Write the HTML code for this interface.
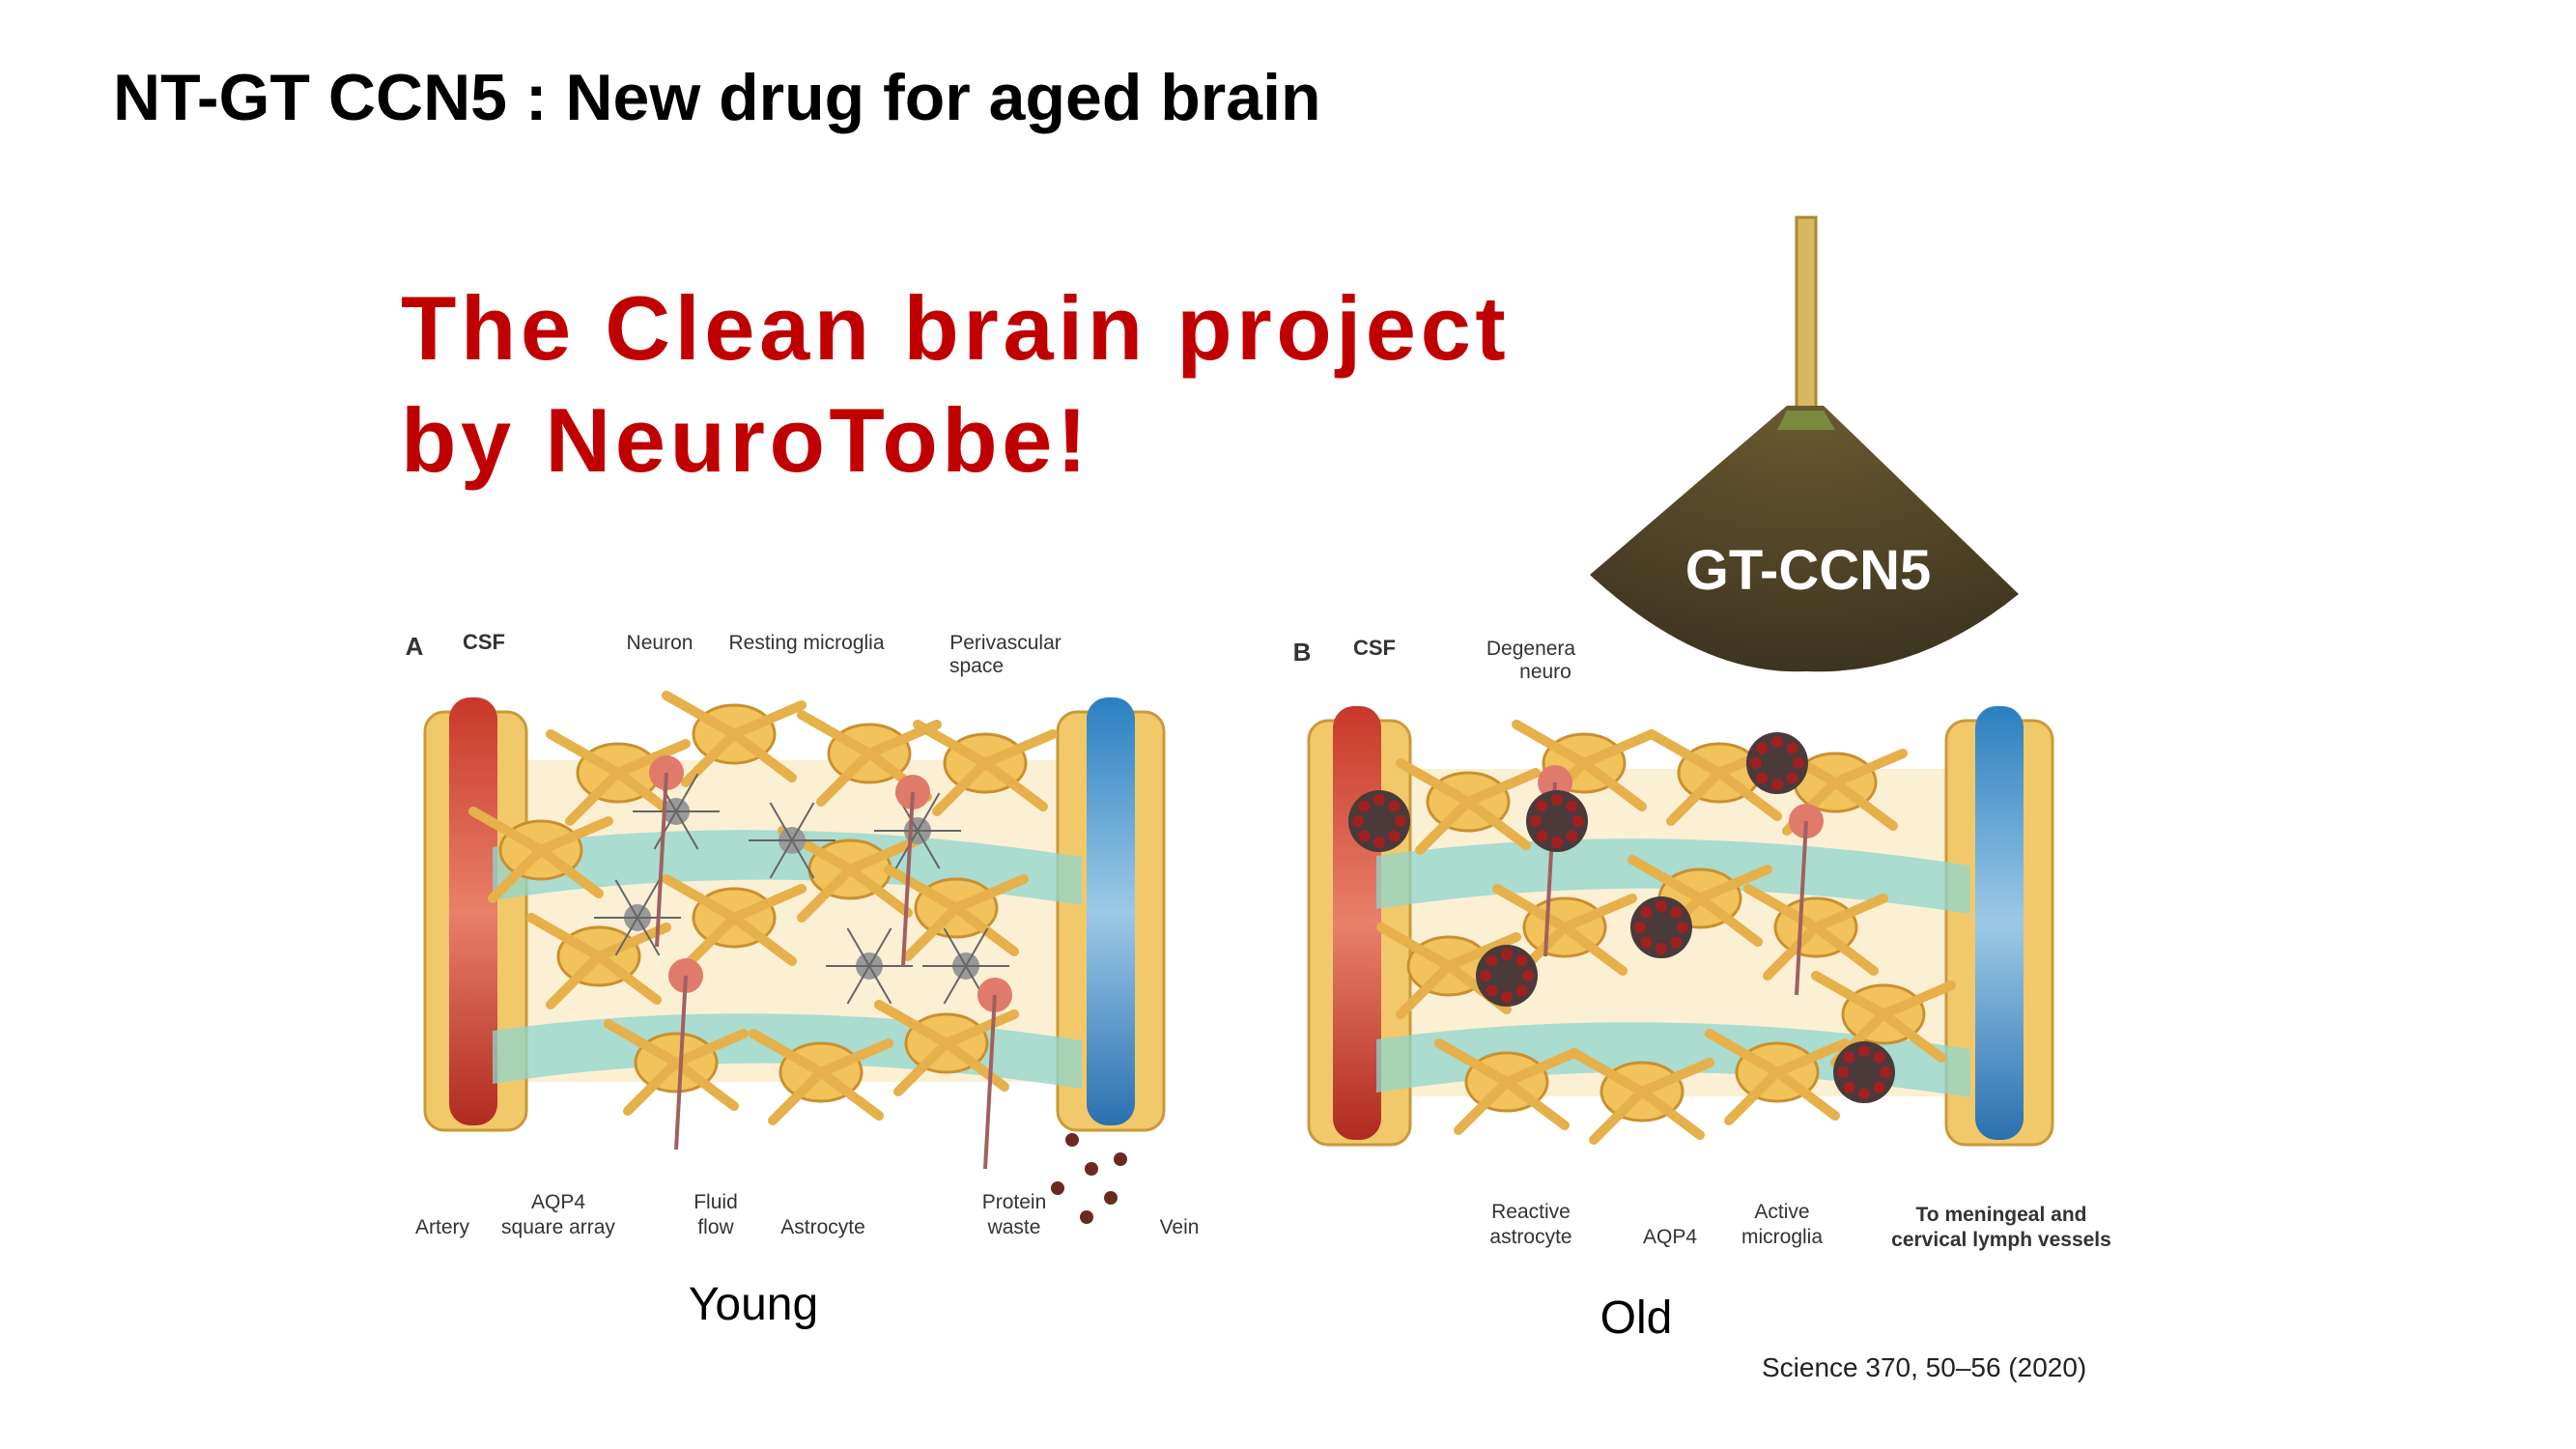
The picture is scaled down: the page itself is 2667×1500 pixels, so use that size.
<!DOCTYPE html>
<html><head><meta charset="utf-8">
<style>
html,body{margin:0;padding:0;background:#fff;width:2667px;height:1500px;overflow:hidden}
svg{display:block}
text{font-family:"Liberation Sans",sans-serif}
</style></head>
<body>
<svg id="s" width="2667" height="1500" viewBox="0 0 2667 1500">
<defs>
<linearGradient id="art" x1="0" y1="0" x2="0" y2="1"><stop offset="0" stop-color="#c8382a"/><stop offset="0.5" stop-color="#e8806a"/><stop offset="1" stop-color="#b02a20"/></linearGradient>
<linearGradient id="vein" x1="0" y1="0" x2="0" y2="1"><stop offset="0" stop-color="#2a7fc0"/><stop offset="0.5" stop-color="#9cc9e6"/><stop offset="1" stop-color="#2a70b0"/></linearGradient>
<radialGradient id="broom" cx="0.5" cy="0" r="1"><stop offset="0" stop-color="#6a5a30"/><stop offset="1" stop-color="#3d3420"/></radialGradient>
</defs>
<text x="117" y="124" font-size="68" font-weight="bold" fill="#000" style='font-family:"Liberation Sans","Noto Sans CJK KR",sans-serif'>NT-GT CCN5 : New drug for aged brain</text>
<text x="415" y="372" font-size="94" font-weight="bold" fill="#c00000" letter-spacing="4.5">The Clean brain project</text>
<text x="415" y="488" font-size="94" font-weight="bold" fill="#c00000" letter-spacing="4.5">by NeuroTobe!</text>

<g>
<rect x="1860" y="225" width="20" height="215" fill="#d8b860" stroke="#a88a30" stroke-width="3"/>
<path d="M1850 420 L1888 420 L2090 615 Q1985 700 1870 695 Q1760 700 1646 595 Z" fill="url(#broom)"/>
<path d="M1850 425 L1888 425 L1900 445 L1840 445 Z" fill="#7a8a40"/>
<text x="1872" y="610" font-size="58" font-weight="bold" fill="#fff" text-anchor="middle">GT-CCN5</text>
</g>

<g id="panelA"></g>
<g id="panelB"></g>

<text x="780" y="1366" font-size="48" fill="#000" text-anchor="middle">Young</text>
<text x="1694" y="1380" font-size="48" fill="#000" text-anchor="middle">Old</text>
<text x="1840" y="1435" font-size="28" fill="#222" transform="translate(-16,-10)">Science 370, 50–56 (2020)</text>
</svg>
<script>
const NS="http://www.w3.org/2000/svg";
function mk(p,tag,attrs,txt){const e=document.createElementNS(NS,tag);for(const k in attrs)e.setAttribute(k,attrs[k]);if(txt!==undefined)e.textContent=txt;p.appendChild(e);return e;}
const astroA=[[640,800],[760,760],[900,780],[1020,790],[620,990],[760,950],[880,900],[990,940],[700,1100],[850,1110],[980,1080],[560,880]];
const microA=[[700,840],[820,870],[950,860],[900,1000],[1000,1000],[660,950]];
const neuronA=[[690,800],[945,820],[710,1010],[1030,1030]];
const astroB=[[1520,830],[1640,790],[1780,800],[1900,810],[1500,1000],[1620,960],[1760,930],[1880,960],[1560,1120],[1700,1130],[1840,1110],[1950,1050]];
const clumpB=[[1428,850],[1612,850],[1720,960],[1840,790],[1930,1110],[1560,1010]];
const wasteA=[[1110,1180],[1130,1210],[1150,1240],[1125,1260],[1160,1200],[1095,1230]];

function panel(g,x0,ax,vx,top,bot,astro,micro,neuron,waste,clumps){
  mk(g,'rect',{x:ax+20,y:top+50,width:vx-ax-20,height:bot-top-100,fill:'#f7e2b0',opacity:0.55});
  mk(g,'rect',{x:ax-30,y:top,width:105,height:bot-top,rx:20,fill:'#f2c96a',stroke:'#c99a3a','stroke-width':3});
  mk(g,'rect',{x:ax-5,y:top-15,width:50,height:bot-top+10,rx:22,fill:'url(#art)'});
  mk(g,'rect',{x:vx-25,y:top,width:110,height:bot-top,rx:20,fill:'#f2c96a',stroke:'#c99a3a','stroke-width':3});
  mk(g,'rect',{x:vx+5,y:top-15,width:50,height:bot-top+10,rx:22,fill:'url(#vein)'});
  [top+140,top+330].forEach((y,i)=>{
    const b=mk(g,'path',{d:`M${ax+40} ${y} Q${(ax+vx)/2} ${y-40} ${vx} ${y+10} L${vx} ${y+60} Q${(ax+vx)/2} ${y+10} ${ax+40} ${y+55} Z`,fill:'#8fd6cf',opacity:0.75});
    
    
  });
  astro.forEach(([x,y])=>{
    const c=mk(g,'ellipse',{cx:x,cy:y,rx:42,ry:30,fill:'#f1c35a',stroke:'#c89030','stroke-width':3});
    
    
    for(let k=0;k<4;k++){mk(g,'line',{x1:x,y1:y,x2:x+[-70,70,-50,60][k],y2:y+[-40,-30,50,45][k],stroke:'#e6b04a','stroke-width':10,'stroke-linecap':'round'});}
  });
  micro.forEach(([x,y])=>{
    const c=mk(g,'circle',{cx:x,cy:y,r:14,fill:'#999'});
    
    
    for(let k=0;k<6;k++){const a=k*Math.PI/3;mk(g,'line',{x1:x,y1:y,x2:x+45*Math.cos(a),y2:y+45*Math.sin(a),stroke:'#666','stroke-width':2});}
  });
  neuron.forEach(([x,y])=>{
    const c=mk(g,'circle',{cx:x,cy:y,r:18,fill:'#e07a6a'});
    
    
    mk(g,'line',{x1:x,y1:y,x2:x-10,y2:y+180,stroke:'#a06060','stroke-width':4});
  });
  waste.forEach(([x,y])=>{
    const c=mk(g,'circle',{cx:x,cy:y,r:7,fill:'#6a2a20'});
    
    
  });
  clumps.forEach(([x,y])=>{
    const c=mk(g,'circle',{cx:x,cy:y,r:32,fill:'#4a3a3a'});
    
    
    for(let k=0;k<8;k++){const a=k*Math.PI/4;mk(g,'circle',{cx:x+22*Math.cos(a),cy:y+22*Math.sin(a),r:6,fill:'#a02020'});}
  });
}
const A=document.getElementById('panelA'),B=document.getElementById('panelB');
panel(A,417,470,1120,737,1170,astroA,microA,neuronA,wasteA,[]);
panel(B,1338,1385,2040,746,1185,astroB,[],[[1610,810],[1870,850]],[],clumpB);
function lbl(g,x,y,t,sz,bold,anchor){const e=mk(g,'text',{x:x,y:y,'font-size':sz,fill:'#333','text-anchor':anchor||'middle','font-weight':bold?'bold':'normal'},t);return e;}
lbl(A,429,678,'A',26,true);lbl(A,501,672,'CSF',22,true);lbl(A,683,672,'Neuron',21);lbl(A,835,672,'Resting microglia',21);
lbl(A,1041,672,'Perivascular',21);lbl(A,1011,696,'space',21);
lbl(A,458,1277,'Artery',21);lbl(A,578,1251,'AQP4',21);lbl(A,578,1277,'square array',21);
lbl(A,741,1251,'Fluid',21);lbl(A,741,1277,'flow',21);lbl(A,852,1277,'Astrocyte',21);
lbl(A,1050,1251,'Protein',21);lbl(A,1050,1277,'waste',21);lbl(A,1221,1277,'Vein',21);
lbl(B,1348,684,'B',26,true);lbl(B,1423,678,'CSF',22,true);lbl(B,1585,678,'Degenera',21);lbl(B,1600,702,'neuro',21);
lbl(B,1585,1261,'Reactive',21);lbl(B,1585,1287,'astrocyte',21);lbl(B,1729,1287,'AQP4',21);
lbl(B,1845,1261,'Active',21);lbl(B,1845,1287,'microglia',21);
lbl(B,2072,1264,'To meningeal and',21,true);lbl(B,2072,1290,'cervical lymph vessels',21,true);
</script>
</body></html>
